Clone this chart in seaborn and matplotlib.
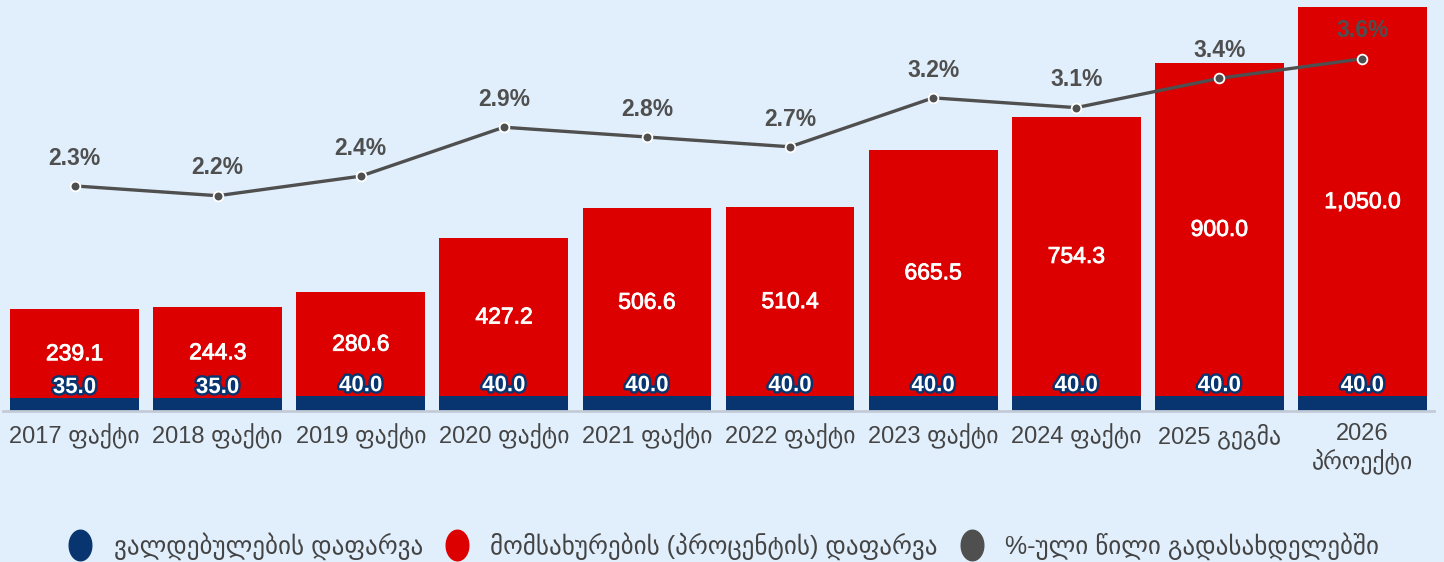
import numpy as np
import pandas as pd
import matplotlib
matplotlib.use("Agg")
import matplotlib.pyplot as plt
import matplotlib.patheffects as pe
from matplotlib.path import Path
from matplotlib.lines import Line2D
import seaborn as sns

# ---- data ----
years = ["2017 ფაქტი", "2018 ფაქტი", "2019 ფაქტი", "2020 ფაქტი", "2021 ფაქტი",
         "2022 ფაქტი", "2023 ფაქტი", "2024 ფაქტი", "2025 გეგმა", "2026\nპროექტი"]
principal = [35.0, 35.0, 40.0, 40.0, 40.0, 40.0, 40.0, 40.0, 40.0, 40.0]
interest = [239.1, 244.3, 280.6, 427.2, 506.6, 510.4, 665.5, 754.3, 900.0, 1050.0]
share_pct = [2.3, 2.2, 2.4, 2.9, 2.8, 2.7, 3.2, 3.1, 3.4, 3.6]
legend_labels = ["ვალდებულების დაფარვა", "მომსახურების (პროცენტის) დაფარვა",
                 "%-ული წილი გადასახდელებში"]

BG = "#e1effc"
BLUE = "#08356f"
RED = "#dd0000"
GREY = "#4f4f4f"
FONT = ["Liberation Sans", "DejaVu Sans"]

sns.set_theme(style="white")
plt.rcParams["font.family"] = FONT

df = pd.DataFrame({"year": years, "principal": principal, "interest": interest,
                   "share": share_pct})
df["pos"] = np.arange(len(df))

fig = plt.figure(figsize=(14.44, 5.62), dpi=100, facecolor=BG)
ax = fig.add_axes([3 / 1444, 151 / 562, 1431 / 1444, 411 / 562])
ax.set_facecolor(BG)

# stacked bars: principal at the bottom, interest stacked above it
sns.barplot(data=df, x="year", y="principal", color=BLUE, width=0.9,
            saturation=1, ax=ax, linewidth=0, edgecolor="none", zorder=2)
sns.barplot(data=df, x="year", y="interest", color=RED, width=0.9,
            saturation=1, ax=ax, linewidth=0, edgecolor="none",
            bottom=df["principal"].to_numpy(), zorder=2)

ax.set_xlim(-0.5, len(df) - 0.5)
ax.set_ylim(0, 1109)
ax.set_xlabel("")
ax.set_ylabel("")
ax.set_yticks([])
for s in ["top", "left", "right"]:
    ax.spines[s].set_visible(False)
ax.spines["bottom"].set_color("#c2cbd6")
ax.spines["bottom"].set_linewidth(2)
ax.tick_params(axis="x", length=0, pad=9, labelsize=17, labelcolor="#444444")

for i, (p, r) in enumerate(zip(principal, interest)):
    ax.text(i, p + r / 2, f"{r:,.1f}", ha="center", va="center", color="white",
            fontsize=16.5, zorder=5,
            path_effects=[pe.Stroke(linewidth=0.6, foreground="white"), pe.Normal()])
    ax.text(i, p, f"{p:.1f}", ha="center", va="bottom", color="white",
            fontsize=16, fontweight="bold", zorder=5,
            path_effects=[pe.Stroke(linewidth=3.5, foreground=BLUE), pe.Normal()])

# share line on the secondary axis
ax2 = ax.twinx()
sns.lineplot(data=df, x="pos", y="share", ax=ax2, color=GREY, linewidth=2.4,
             marker="o", markersize=7, markerfacecolor=GREY,
             markeredgecolor="white", markeredgewidth=1.3, zorder=4)
ax2.set_ylim(0, 4.2)
ax2.set_xlim(-0.5, len(df) - 0.5)
ax2.set_yticks([])
ax2.set_ylabel("")
ax2.set_xlabel("")
for s in ax2.spines.values():
    s.set_visible(False)
for i, v in enumerate(share_pct):
    ax2.annotate(f"{v:.1f}%", (i, v), xytext=(0, 20), textcoords="offset points",
                 ha="center", va="center", color=GREY, fontsize=16.5,
                 fontweight="bold", zorder=6)

# legend with oval markers
t = np.linspace(0, 2 * np.pi, 64)
oval = Path(np.column_stack([0.74 * np.cos(t), np.sin(t)]), closed=True)
handles = [Line2D([], [], linestyle="none", marker=oval, markersize=22,
                  markerfacecolor=c, markeredgecolor=c)
           for c in (BLUE, RED, GREY)]
fig.legend(handles, legend_labels, loc="center", bbox_to_anchor=(0.5, 16 / 562),
           ncol=3, frameon=False, fontsize=18, labelcolor="#444444",
           handletextpad=0.75, columnspacing=0.75, handlelength=1.2)

fig.savefig("out.png", dpi=100, facecolor=BG)
